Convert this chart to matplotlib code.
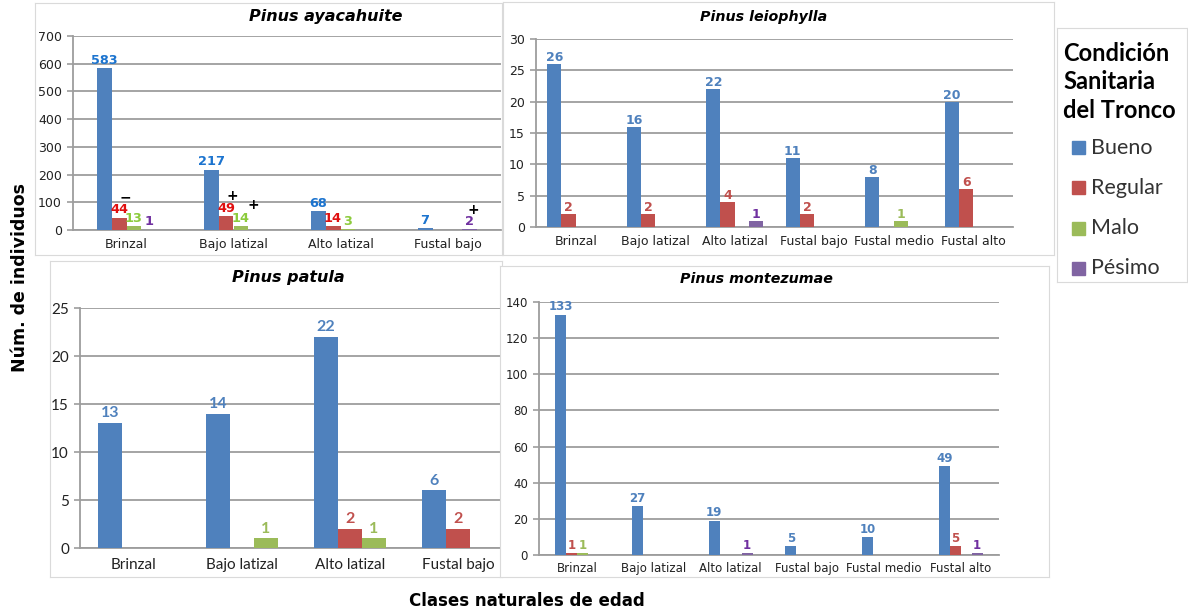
import numpy as np
import matplotlib
matplotlib.use('Agg')
import matplotlib.pyplot as plt
from matplotlib.patches import Rectangle

W, H = 1188, 615

# Datos
series = ['Bueno', 'Regular', 'Malo', 'Pésimo']
clases4 = ['Brinzal', 'Bajo latizal', 'Alto latizal', 'Fustal bajo']
clases6 = ['Brinzal', 'Bajo latizal', 'Alto latizal', 'Fustal bajo', 'Fustal medio', 'Fustal alto']

ayacahuite_bueno = [583, 217, 68, 7]
ayacahuite_regular = [44, 49, 14, 0]
ayacahuite_malo = [13, 14, 3, 0]
ayacahuite_pesimo = [1, 0, 0, 2]

leiophylla_bueno = [26, 16, 22, 11, 8, 20]
leiophylla_regular = [2, 2, 4, 2, 0, 6]
leiophylla_malo = [0, 0, 0, 0, 1, 0]
leiophylla_pesimo = [0, 0, 1, 0, 0, 0]

patula_bueno = [13, 14, 22, 6]
patula_regular = [0, 0, 2, 2]
patula_malo = [0, 1, 1, 0]

montezumae_bueno = [133, 27, 19, 5, 10, 49]
montezumae_regular = [1, 0, 0, 0, 0, 5]
montezumae_malo = [1, 0, 0, 0, 0, 0]
montezumae_pesimo = [0, 0, 1, 0, 0, 1]

# marcas de significancia en P. ayacahuite: (clase, serie, simbolo, altura)
marcas = [(0, 1.45, '−', 118), (1, 1.4, '+', 121), (1, 2.8, '+', 92), (3, 3.2, '+', 72)]

bar_colors = ['#4F81BD', '#C0504D', '#9BBB59', '#8064A2']
lab_colors_a = ['#1C74CF', '#E01010', '#8CCB3C', '#7030A0']
lab_colors = ['#4F81BD', '#C0504D', '#9BBB59', '#7030A0']
grid_c = '#9d9d9d'

fig = plt.figure(figsize=(W / 100, H / 100), dpi=100)


def rect(x0, y0, x1, y1):
    return [x0 / W, 1 - y1 / H, (x1 - x0) / W, (y1 - y0) / H]


def frame(x0, y0, x1, y1, z):
    fa = fig.add_axes(rect(x0, y0, x1, y1), zorder=z)
    fa.set_xticks([])
    fa.set_yticks([])
    for s in fa.spines.values():
        s.set_color('#dadada')
        s.set_linewidth(0.8)
    return fa


def panel(box, z, cats, vals, ymax, ystep, bw, fs_tick, fs_lab, lab_cols,
          tick_font='DejaVu Sans', lab_font='DejaVu Sans', xpad=5, lab_off=1.5):
    ax = fig.add_axes(rect(*box), zorder=z)
    ax.patch.set_alpha(0)
    x = np.arange(len(cats))
    n = len(vals)
    for i, v in enumerate(vals):
        pos = x + (i - (n - 1) / 2) * bw
        ax.bar(pos, v, bw, color=bar_colors[i], zorder=3)
        for p, val in zip(pos, v):
            if val > 0:
                ax.annotate(str(val), (p, val), xytext=(0, lab_off), textcoords='offset points',
                            ha='center', va='bottom', fontsize=fs_lab, fontweight='bold',
                            color=lab_cols[i], family=lab_font, zorder=4)
    ax.set_xlim(-0.5, len(cats) - 0.5)
    ax.set_ylim(0, ymax)
    ax.set_yticks(np.arange(0, ymax + 1, ystep))
    ax.set_xticks(x)
    ax.set_xticklabels(cats, fontsize=fs_tick, family=tick_font, color='#222222')
    for t in ax.get_yticklabels():
        t.set_fontsize(fs_tick)
        t.set_family(tick_font)
        t.set_color('#222222')
    ax.tick_params(axis='x', length=0, pad=xpad)
    ax.tick_params(axis='y', length=4, color=grid_c, width=1.2, pad=4)
    ax.grid(axis='y', color=grid_c, lw=1.3, zorder=0)
    ax.set_axisbelow(True)
    for s in ['top', 'right']:
        ax.spines[s].set_visible(False)
    for s in ['left', 'bottom']:
        ax.spines[s].set_color(grid_c)
        ax.spines[s].set_linewidth(1.3)
    return ax


# Pinus ayacahuite
frame(35, 3, 502, 255, 0)
ax1 = panel((73, 36, 501, 230), 1, clases4,
            [ayacahuite_bueno, ayacahuite_regular, ayacahuite_malo, ayacahuite_pesimo],
            700, 100, 0.14, 9, 9.3, lab_colors_a, xpad=6, lab_off=1)
for c, s, sym, yv in marcas:
    ax1.text(c + (s - 1.5) * 0.14, yv, sym, ha='center', va='center', fontsize=10,
             fontweight='bold', color='black', zorder=5)
fig.text(326 / W, 1 - 16 / H, 'Pinus ayacahuite', ha='center', va='center',
         fontsize=11.5, fontweight='bold', style='italic')

# Pinus leiophylla
frame(503, 2, 1054, 255, 0)
panel((536, 39, 1013, 227), 1, clases6,
      [leiophylla_bueno, leiophylla_regular, leiophylla_malo, leiophylla_pesimo],
      30, 5, 0.18, 9, 9, lab_colors, xpad=6, lab_off=0)
fig.text(764 / W, 1 - 17.5 / H, 'Pinus leiophylla', ha='center', va='center',
         fontsize=10.3, fontweight='bold', style='italic')

# Pinus patula
frame(50, 261, 502, 577, 2)
panel((80, 308, 512, 548), 3, clases4,
      [patula_bueno, patula_regular, patula_malo],
      25, 5, 0.22, 11, 11.5, lab_colors, tick_font='Lato', lab_font='Lato', xpad=7, lab_off=2)
fig.text(288 / W, 1 - 277.5 / H, 'Pinus patula', ha='center', va='center',
         fontsize=11.5, fontweight='bold', style='italic', zorder=10)

# Pinus montezumae
frame(500, 266, 1049, 577, 4)
panel((539, 302, 999, 555), 5, clases6,
      [montezumae_bueno, montezumae_regular, montezumae_malo, montezumae_pesimo],
      140, 20, 0.143, 8.5, 8.5, lab_colors, xpad=5, lab_off=1)
fig.text(756 / W, 1 - 279 / H, 'Pinus montezumae', ha='center', va='center',
         fontsize=10.3, fontweight='bold', style='italic', zorder=10)

# Leyenda
lg = frame(1057, 28, 1187, 282, 6)
lg.set_xlim(0, 130)
lg.set_ylim(254, 0)
lg.text(6, 54, 'Condición\nSanitaria\ndel Tronco', ha='left', va='center', fontsize=17,
        fontweight='bold', family='Lato', linespacing=1.3)
for i, name in enumerate(series):
    yy = 120 + i * 40
    lg.add_patch(Rectangle((15, yy - 6.5), 13, 13, color=bar_colors[i]))
    lg.text(34, yy, name, ha='left', va='center', fontsize=15.5, family='Lato', color='#333333')

# Rotulos de ejes
fig.text(20 / W, 1 - 278 / H, 'Núm. de individuos', rotation=90, ha='center', va='center',
         fontsize=12.5, fontweight='bold')
fig.text(527 / W, 1 - 601 / H, 'Clases naturales de edad', ha='center', va='center',
         fontsize=12, fontweight='bold')

fig.savefig('out.png', dpi=100, facecolor='white')
